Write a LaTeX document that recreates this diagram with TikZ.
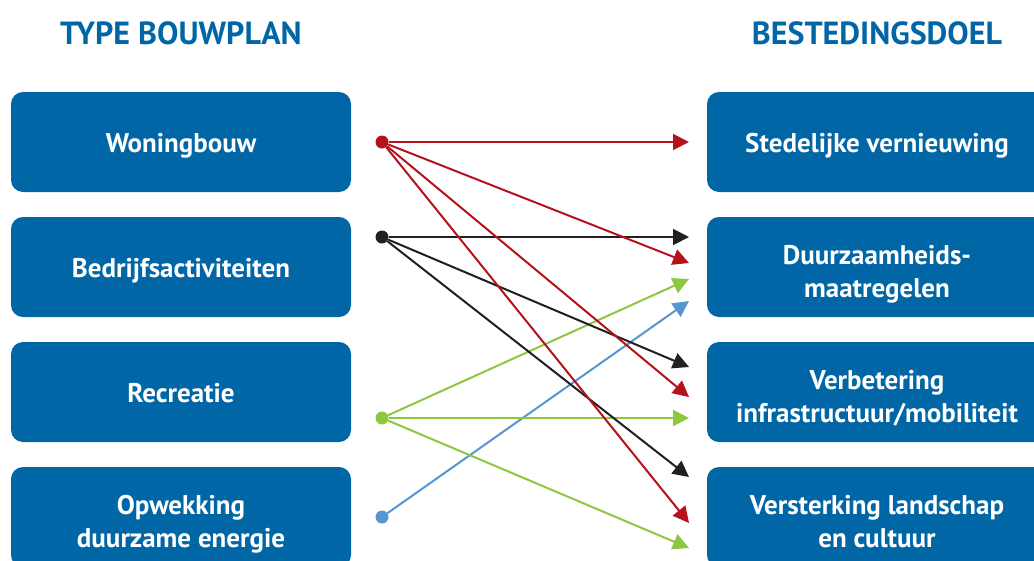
\documentclass[tikz,border=0pt]{standalone}
\usepackage{fontspec}
\setmainfont{PT Sans}
\usepackage{xcolor}
\usepackage{tikz}
\usetikzlibrary{arrows.meta}
\definecolor{boxblue}{HTML}{0066A6}
\definecolor{wine}{HTML}{B5121B}
\definecolor{ink}{HTML}{231F20}
\definecolor{lime}{HTML}{8DC63F}
\definecolor{sky}{HTML}{5695D0}
\newcommand{\topgap}{\rule{0pt}{35pt}}
\tikzset{
  box/.style={fill=boxblue, rounded corners=12pt, minimum width=340pt, minimum height=100pt,
    inner sep=0pt, text=white, align=center, font=\bfseries\fontsize{27}{33}\selectfont,
    execute at begin node={\rule{0pt}{28pt}}, execute at end node={\rule[-8pt]{0pt}{8pt}}},
  head/.style={text=boxblue, font=\bfseries\fontsize{32}{36}\selectfont},
  dot/.style={circle, inner sep=0pt, minimum size=13pt},
  link/.style={line width=2pt, -{Triangle[length=16pt, width=16pt]}}
}

\begin{document}
\begin{tikzpicture}[x=1pt, y=-1pt]
  \useasboundingbox (0,0) rectangle (1034,560);
  \clip (0,0) rectangle (1034,560);

  \node[head] (hbouw) at (181,33) {TYPE BOUWPLAN};
  \node[head] (hdoel) at (877,33) {BESTEDINGSDOEL};

  \node[box] (woning) at (181,142) {Woningbouw};
  \node[box] (bedrijf) at (181,267) {Bedrijfsactiviteiten};
  \node[box] (recreatie) at (181,392) {Recreatie};
  \node[box] (energie) at (181,517) {\topgap Opwekking\\duurzame energie};

  \node[box] (stedelijk) at (877,142) {Stedelijke vernieuwing};
  \node[box] (duurzaam) at (877,267) {\topgap Duurzaamheids-\\maatregelen};
  \node[box] (infra) at (877,392) {\topgap Verbetering\\infrastructuur/mobiliteit};
  \node[box] (landschap) at (877,517) {\topgap Versterking landschap\\en cultuur};

  \node[dot, fill=wine] (pw) at (382,142) {};
  \node[dot, fill=ink] (pb) at (382,237) {};
  \node[dot, fill=lime] (pr) at (382,418) {};
  \node[dot, fill=sky] (pe) at (382,517) {};

  \coordinate (s1) at (689,142);
  \coordinate (d1) at (689,237);
  \coordinate (d2) at (689,263);
  \coordinate (d3) at (689,279);
  \coordinate (d4) at (689,301);
  \coordinate (i1) at (689,367);
  \coordinate (i2) at (689,397);
  \coordinate (i3) at (689,418);
  \coordinate (l1) at (689,477);
  \coordinate (l2) at (689,523);
  \coordinate (l3) at (689,548);

  \draw[link, sky] (pe) -- (d4);
  \draw[link, lime] (pr) -- (d3);
  \draw[link, lime] (pr) -- (i3);
  \draw[link, lime] (pr) -- (l3);
  \draw[link, ink] (pb) -- (d1);
  \draw[link, ink] (pb) -- (i1);
  \draw[link, ink] (pb) -- (l1);
  \draw[link, wine] (pw) -- (s1);
  \draw[link, wine] (pw) -- (d2);
  \draw[link, wine] (pw) -- (i2);
  \draw[link, wine] (pw) -- (l2);
\end{tikzpicture}
\end{document}
